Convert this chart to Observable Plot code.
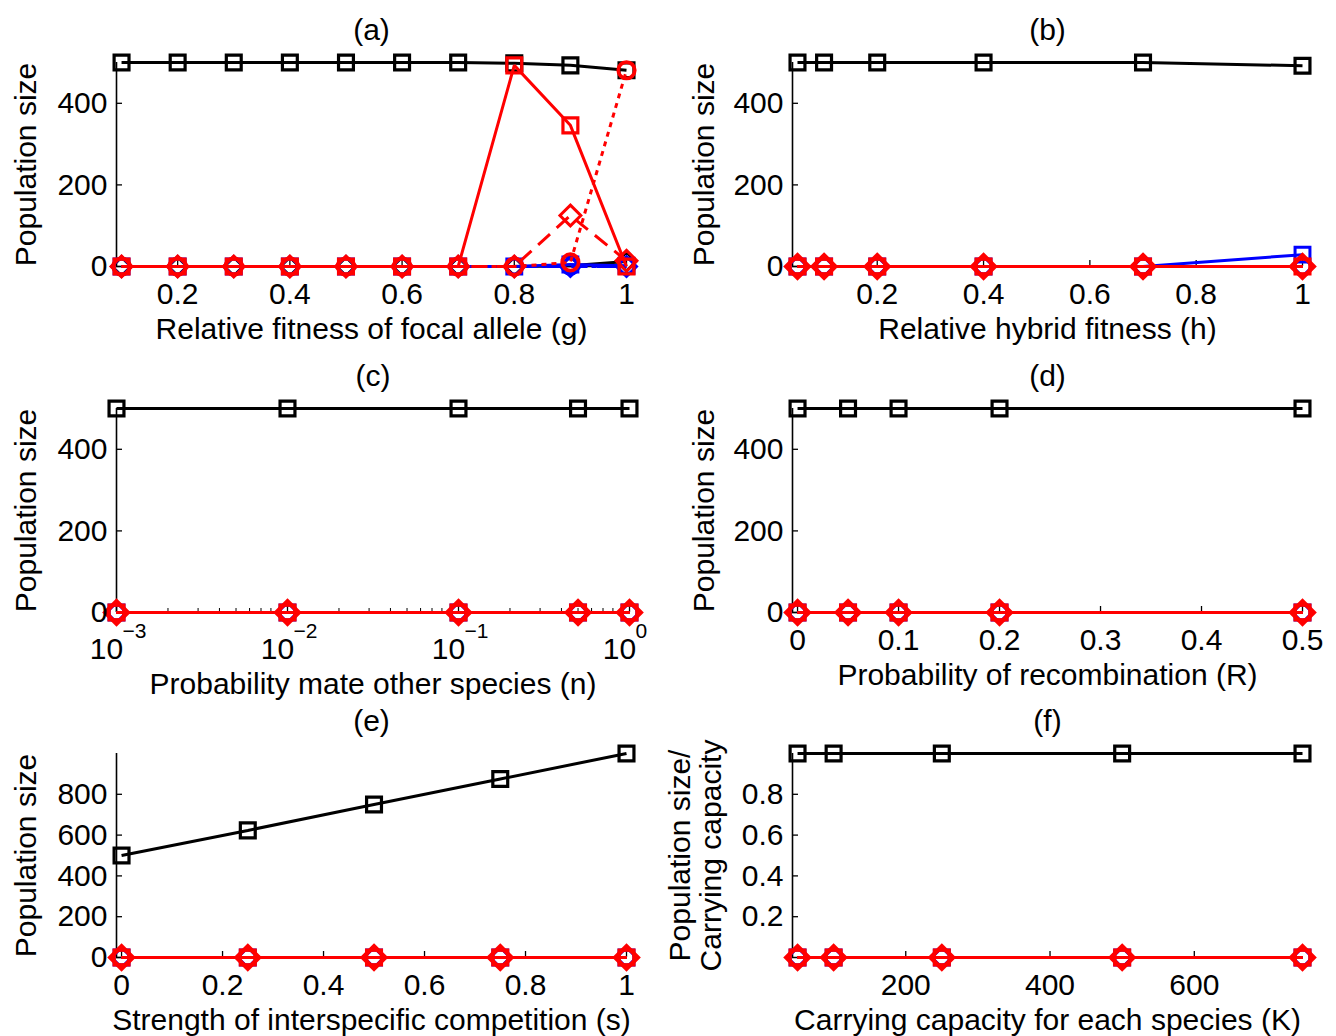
<!DOCTYPE html>
<html>
<head>
<meta charset="utf-8">
<script src="https://cdn.jsdelivr.net/npm/d3@7"></script>
<script src="https://cdn.jsdelivr.net/npm/@observablehq/plot@0.6"></script>
<style>
  html, body { margin: 0; padding: 0; background: #fff; }
  #root { position: relative; width: 1336px; height: 1036px; overflow: hidden; background: #fff; }
  .panel { position: absolute; }
</style>
</head>
<body>
<div id="root"></div>
<script>
// ---------- DATA ----------
// (a) relative fitness of focal allele
const aX = [0.1, 0.2, 0.3, 0.4, 0.5, 0.6, 0.7, 0.8, 0.9, 1.0];
const aBlackSq = [500, 500, 500, 500, 500, 500, 500, 498, 493, 481];
const aBlackDi = [0, 0, 0, 0, 0, 0, 0, 0, 2, 12];
const aBlueSq  = [0, 0, 0, 0, 0, 0, 0, 0, 5, 2];
const aBlueDi  = [0, 0, 0, 0, 0, 0, 0, 0, 0, 0];
const aBlueCi  = [0, 0, 0, 0, 0, 0, 0, 0, 0, 0];
const aRedSq   = [0, 0, 0, 0, 0, 0, 0, 493, 346, 0];
const aRedDi   = [0, 0, 0, 0, 0, 0, 0, 0, 125, 14];
const aRedCi   = [0, 0, 0, 0, 0, 0, 0, 0, 10, 481];

// (b) relative hybrid fitness
const bX = [0.05, 0.1, 0.2, 0.4, 0.7, 1.0];
const bBlackSq = [500, 500, 500, 500, 500, 492];
const bBlueSq  = [0, 0, 0, 0, 0, 29];
const bOther   = [0, 0, 0, 0, 0, 0];

// (c) probability mate other species
const cX = [0.001, 0.01, 0.1, 0.5, 1];
const cBlackSq = [500, 500, 500, 500, 500];
const cOther   = [0, 0, 0, 0, 0];

// (d) probability of recombination
const dX = [0, 0.05, 0.1, 0.2, 0.5];
const dBlackSq = [500, 500, 500, 500, 500];
const dOther   = [0, 0, 0, 0, 0];

// (e) strength of interspecific competition
const eX = [0, 0.25, 0.5, 0.75, 1];
const eBlackSq = [500, 623, 750, 875, 1000];
const eOther   = [0, 0, 0, 0, 0];

// (f) carrying capacity
const fX = [50, 100, 250, 500, 750];
const fBlackSq = [1, 1, 1, 1, 1];
const fOther   = [0, 0, 0, 0, 0];

// tick labels
const ticksFit = [0.2, 0.4, 0.6, 0.8, 1];
const ticksPop = [0, 200, 400];
const ticksLog = [0.001, 0.01, 0.1, 1];
const ticksLogExp = ["\u22123", "\u22122", "\u22121", "0"];
const ticksLogMinor = [0.002, 0.003, 0.004, 0.005, 0.006, 0.007, 0.008, 0.009,
                       0.02, 0.03, 0.04, 0.05, 0.06, 0.07, 0.08, 0.09,
                       0.2, 0.3, 0.4, 0.5, 0.6, 0.7, 0.8, 0.9];
const ticksRec = [0, 0.1, 0.2, 0.3, 0.4, 0.5];
const ticksComp = [0, 0.2, 0.4, 0.6, 0.8, 1];
const ticksPopE = [0, 200, 400, 600, 800];
const ticksK = [200, 400, 600];
const ticksRatio = [0.2, 0.4, 0.6, 0.8];

// ---------- STYLES ----------
const BLUE = "#0000ff", RED = "#ff0000";
const ST = {
  blackSq:  {stroke: "#000", symbol: "square", r: 8.4, sw: 3, dot: 3.2},
  blackDi:  {stroke: "#000", symbol: "diamond2", r: 8.5, sw: 3, dot: 3},
  blueSq:   {stroke: BLUE, symbol: "square", r: 8.4, sw: 3, dot: 3},
  blueDi:   {stroke: BLUE, symbol: "diamond2", r: 9, sw: 3, dot: 3, dash: "16,9"},
  blueCi:   {stroke: BLUE, symbol: "circle", r: 8, sw: 3, dot: 3, dash: "5,5"},
  redSq:    {stroke: RED, symbol: "square", r: 8.4, sw: 3, dot: 3.2},
  redDi:    {stroke: RED, symbol: "diamond2", r: 11, sw: 3, dot: 3},
  redDiL:   {stroke: RED, symbol: "diamond2", r: 9.4, sw: 3, dot: 3, dash: "16,9"},
  redCi:    {stroke: RED, symbol: "circle", r: 8.2, sw: 3, dot: 3.8, dash: "5,5"}
};

const FONT = "'Liberation Sans', Arial, Helvetica, sans-serif";

function panel(cfg) {
  const innerW = cfg.width - cfg.ml - cfg.mr;
  const innerH = cfg.height - cfg.mt - cfg.mb;
  const marks = [];
  // axis lines
  marks.push(Plot.ruleX([cfg.xDomain[0]], {stroke: "#000", strokeWidth: 1.6}));
  marks.push(Plot.ruleY([cfg.yDomain[0]], {stroke: "#000", strokeWidth: 1.6}));
  // inward ticks
  marks.push(Plot.tickX(cfg.xTicks, {x: d => d, insetTop: innerH - 6, stroke: "#000", strokeWidth: 1.3}));
  if (cfg.xMinor) marks.push(Plot.tickX(cfg.xMinor, {x: d => d, insetTop: innerH - 4, stroke: "#000", strokeWidth: 1}));
  marks.push(Plot.tickY(cfg.yTicks, {y: d => d, insetRight: innerW - 6, stroke: "#000", strokeWidth: 1.3}));
  // series
  for (const s of cfg.series) {
    const st = ST[s.style];
    const data = cfg.xs.map((x, i) => ({x, y: s.values[i]}));
    marks.push(Plot.line(data, {x: "x", y: "y", stroke: st.stroke, strokeWidth: st.sw,
      strokeDasharray: st.dash || null, strokeLinejoin: "miter", strokeLinecap: "butt"}));
    marks.push(Plot.dot(data, {x: "x", y: "y", symbol: st.symbol, r: st.r, stroke: st.stroke,
      strokeWidth: st.dot, fill: "none"}));
  }
  // axes tick labels
  marks.push(Plot.axisX({ticks: cfg.xTicks, tickSize: 0, tickPadding: cfg.xPad ?? 16,
    tickFormat: cfg.xFormat || (d => String(d)), label: null, dx: cfg.xLabelDx || 0, fontSize: 30}));
  marks.push(Plot.axisY({ticks: cfg.yTicks, tickSize: 0, tickPadding: 9,
    tickFormat: d => String(d), label: null, fontSize: 30}));
  if (cfg.extra) marks.push(...cfg.extra);
  // labels
  marks.push(Plot.text([cfg.title], {frameAnchor: "top", dy: -32, lineAnchor: "middle", fontSize: 30, text: d => d}));
  marks.push(Plot.text([cfg.xLabel], {frameAnchor: "bottom", dy: cfg.xLabelDy, lineAnchor: "middle", fontSize: 30, text: d => d}));
  marks.push(Plot.text([cfg.yLabel], {frameAnchor: "left", dx: cfg.yLabelDx, rotate: -90, lineAnchor: "middle",
    textAnchor: "middle", fontSize: 30, lineHeight: 1.05, text: d => d}));

  const chart = Plot.plot({
    width: cfg.width, height: cfg.height,
    marginLeft: cfg.ml, marginRight: cfg.mr, marginTop: cfg.mt, marginBottom: cfg.mb,
    x: {type: cfg.xType || "linear", domain: cfg.xDomain},
    y: {domain: cfg.yDomain},
    style: {fontFamily: FONT, fontSize: "30px", color: "#000", background: "transparent", overflow: "visible"},
    marks
  });
  const div = document.createElement("div");
  div.className = "panel";
  div.style.left = cfg.left + "px";
  div.style.top = cfg.top + "px";
  div.appendChild(chart);
  document.getElementById("root").appendChild(div);
}

const LEFT = {left: 0, width: 668, ml: 116, mr: 42};
const RIGHT = {left: 668, width: 668, ml: 124, mr: 34};
const ROW1 = {top: 0, height: 345, mt: 62, mb: 79};
const ROW2 = {top: 345, height: 346, mt: 63, mb: 79};
const ROW3 = {top: 691, height: 345, mt: 62, mb: 79};

const zeroSeries = (vals) => [
  {style: "blueSq", values: vals}, {style: "blueDi", values: vals}, {style: "blueCi", values: vals},
  {style: "redSq", values: vals}, {style: "redDiL", values: vals}, {style: "redCi", values: vals},
  {style: "redDi", values: vals}
];

// (a)
panel({...LEFT, ...ROW1, xs: aX, xDomain: [0.091, 1], yDomain: [0, 500],
  xTicks: ticksFit, yTicks: ticksPop, title: "(a)",
  xLabel: "Relative fitness of focal allele (g)", xLabelDy: 63,
  yLabel: "Population size", yLabelDx: -91,
  series: [
    {style: "blackDi", values: aBlackDi},
    {style: "blackSq", values: aBlackSq},
    {style: "blueSq", values: aBlueSq}, {style: "blueDi", values: aBlueDi}, {style: "blueCi", values: aBlueCi},
    {style: "redDiL", values: aRedDi}, {style: "redCi", values: aRedCi}, {style: "redSq", values: aRedSq}
  ]});

// (b)
panel({...RIGHT, ...ROW1, xs: bX, xDomain: [0.0406, 1], yDomain: [0, 500],
  xTicks: ticksFit, yTicks: ticksPop, title: "(b)",
  xLabel: "Relative hybrid fitness (h)", xLabelDy: 63,
  yLabel: "Population size", yLabelDx: -89,
  series: [
    {style: "blackSq", values: bBlackSq},
    {style: "blueSq", values: bBlueSq}, {style: "blueDi", values: bOther}, {style: "blueCi", values: bOther},
    {style: "redSq", values: bOther}, {style: "redDiL", values: bOther}, {style: "redCi", values: bOther},
    {style: "redDi", values: bOther}
  ]});

// (c)
panel({...LEFT, ...ROW2, mr: 39, xs: cX, xType: "log", xDomain: [0.001, 1], yDomain: [0, 500],
  xTicks: ticksLog, xMinor: ticksLogMinor, yTicks: ticksPop, title: "(c)",
  xFormat: () => "10", xPad: 25, xLabelDx: -10,
  xLabel: "Probability mate other species (n)", xLabelDy: 72,
  yLabel: "Population size", yLabelDx: -91,
  extra: [Plot.text(ticksLog, {x: d => d, text: (d, i) => ticksLogExp[i], frameAnchor: "bottom",
    dy: 19, dx: 6, textAnchor: "start", lineAnchor: "middle", fontSize: 21})],
  series: [{style: "blackSq", values: cBlackSq}, ...zeroSeries(cOther)]});

// (d)
panel({...RIGHT, ...ROW2, xs: dX, xDomain: [-0.005, 0.5], yDomain: [0, 500],
  xTicks: ticksRec, yTicks: ticksPop, title: "(d)",
  xLabel: "Probability of recombination (R)", xLabelDy: 63,
  yLabel: "Population size", yLabelDx: -89,
  series: [{style: "blackSq", values: dBlackSq}, ...zeroSeries(dOther)]});

// (e)
panel({...LEFT, ...ROW3, xs: eX, xDomain: [-0.01, 1], yDomain: [0, 1000],
  xTicks: ticksComp, yTicks: ticksPopE, title: "(e)",
  xLabel: "Strength of interspecific competition (s)", xLabelDy: 63,
  yLabel: "Population size", yLabelDx: -91,
  series: [{style: "blackSq", values: eBlackSq}, ...zeroSeries(eOther)]});

// (f)
panel({...RIGHT, ...ROW3, xs: fX, xDomain: [43, 750], yDomain: [0, 1],
  xTicks: ticksK, yTicks: ticksRatio, title: "(f)",
  xLabel: "Carrying capacity for each species (K)", xLabelDy: 63,
  yLabel: "Population size/\nCarrying capacity", yLabelDx: -97,
  series: [{style: "blackSq", values: fBlackSq}, ...zeroSeries(fOther)]});
</script>
</body>
</html>
